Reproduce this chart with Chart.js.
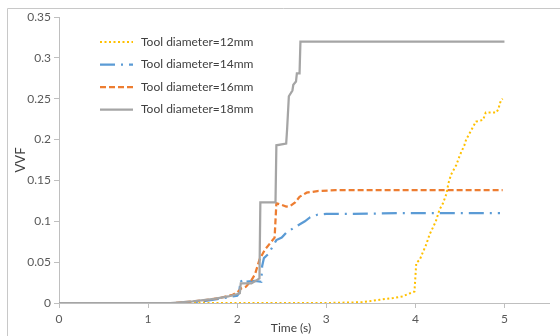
<!DOCTYPE html>
<html>
<head>
<meta charset="utf-8">
<script src="https://cdn.jsdelivr.net/npm/chart.js@4/dist/chart.umd.min.js"></script>
<style>
body{margin:0;background:#fff;}
canvas{display:block;}
</style>
</head>
<body>
<canvas id="myChart" width="560" height="336"></canvas>
<script>
// series names
const labels12 = "Tool diameter=12mm";
const labels14 = "Tool diameter=14mm";
const labels16 = "Tool diameter=16mm";
const labels18 = "Tool diameter=18mm";

// time (s) and VVF values
const t12 = [0, 3.0, 3.4, 3.6, 3.75, 3.85, 3.92, 3.99, 4.01, 4.05, 4.08, 4.12, 4.16, 4.2, 4.23, 4.27, 4.31, 4.35, 4.37, 4.4, 4.46, 4.5, 4.55, 4.57, 4.63, 4.68, 4.76, 4.79, 4.91, 4.93, 4.96, 4.98];
const v12 = [0, 0, 0.001, 0.004, 0.006, 0.008, 0.011, 0.014, 0.049, 0.053, 0.061, 0.071, 0.084, 0.093, 0.1, 0.114, 0.122, 0.134, 0.146, 0.157, 0.169, 0.181, 0.193, 0.2, 0.212, 0.222, 0.224, 0.233, 0.233, 0.237, 0.248, 0.25];

const t14 = [0, 1.35, 1.6, 1.8, 1.95, 2.0, 2.02, 2.04, 2.06, 2.1, 2.2, 2.27, 2.28, 2.3, 2.35, 2.44, 2.5, 2.55, 2.65, 2.76, 2.82, 2.9, 3.0, 3.3, 3.8, 4.95];
const v14 = [0, 0, 0.002, 0.005, 0.008, 0.009, 0.012, 0.028, 0.024, 0.026, 0.027, 0.026, 0.045, 0.055, 0.06, 0.077, 0.08, 0.086, 0.093, 0.1, 0.105, 0.108, 0.109, 0.109, 0.11, 0.11];

const t16 = [0, 1.3, 1.6, 1.8, 1.95, 2.0, 2.05, 2.1, 2.16, 2.2, 2.25, 2.31, 2.42, 2.44, 2.5, 2.55, 2.6, 2.65, 2.7, 2.78, 2.9, 3.1, 3.5, 4.0, 4.98];
const v16 = [0, 0, 0.003, 0.006, 0.01, 0.013, 0.018, 0.02, 0.028, 0.035, 0.053, 0.065, 0.08, 0.122, 0.12, 0.118, 0.119, 0.123, 0.13, 0.135, 0.137, 0.138, 0.138, 0.138, 0.138];

const t18 = [0, 1.25, 1.5, 1.74, 1.9, 2.0, 2.03, 2.04, 2.16, 2.22, 2.25, 2.26, 2.43, 2.44, 2.55, 2.56, 2.57, 2.58, 2.62, 2.63, 2.66, 2.67, 2.70, 2.71, 5.0];
const v18 = [0, 0, 0.002, 0.005, 0.008, 0.011, 0.012, 0.024, 0.024, 0.028, 0.030, 0.123, 0.123, 0.193, 0.195, 0.212, 0.212, 0.253, 0.260, 0.267, 0.271, 0.281, 0.281, 0.32, 0.32];

function pts(t, v){
    return t.map((x, i) => ({x: x, y: v[i]}));
}

const FONT = "Lato, 'Liberation Sans', sans-serif";

const series = [
    {label: labels12, data: pts(t12, v12), color: "#FFC000", dash: [2, 2.5], width: 2, order: 4},
    {label: labels14, data: pts(t14, v14), color: "#5B9BD5", dash: [15, 6, 2, 6], width: 2.25, order: 3},
    {label: labels16, data: pts(t16, v16), color: "#ED7D31", dash: [6, 3], width: 2.25, order: 2},
    {label: labels18, data: pts(t18, v18), color: "#A5A5A5", dash: [], width: 2.25, order: 1},
];

// frame, x title and the legend drawn by hand (Excel style)
const extras = {
    id: "extras",
    beforeDraw(c){
        const ctx = c.ctx;
        ctx.save();
        ctx.strokeStyle = "#c8c8c8";
        ctx.lineWidth = 1;
        ctx.beginPath();
        ctx.moveTo(7.5, 336);
        ctx.lineTo(7.5, 8.5);
        ctx.lineTo(560, 8.5);
        ctx.stroke();
        ctx.restore();
    },
    afterDraw(c){
        const ctx = c.ctx;
        ctx.save();
        ctx.fillStyle = "#404040";
        ctx.font = "12px " + FONT;
        ctx.textAlign = "center";
        ctx.textBaseline = "middle";
        ctx.fillText("Time (s)", 291, 328);
        ctx.textAlign = "left";
        series.forEach((s, i) => {
            const y = 42 + i * 22.5;
            ctx.strokeStyle = s.color;
            ctx.lineWidth = s.width;
            ctx.setLineDash(s.dash);
            ctx.beginPath();
            ctx.moveTo(100, y);
            ctx.lineTo(133, y);
            ctx.stroke();
            ctx.setLineDash([]);
            ctx.fillText(s.label, 141, y);
        });
        ctx.restore();
    }
};

let myChart = document.querySelector("#myChart").getContext("2d");
var chart = new Chart(myChart, {
    type: "line",
    data: {
        datasets: series.map(s => ({
            label: s.label,
            data: s.data,
            borderColor: s.color,
            borderDash: s.dash,
            borderWidth: s.width,
            pointRadius: 0,
            fill: false,
            tension: 0,
            order: s.order,
        })),
    },
    options: {
        responsive: false,
        animation: false,
        layout: {padding: {top: 17, right: 11, left: 0, bottom: 0}},
        plugins: {legend: {display: false}, tooltip: {enabled: false}},
        scales: {
            x: {
                type: "linear",
                min: 0,
                max: 5.5,
                border: {color: "#bfbfbf"},
                grid: {drawOnChartArea: false, tickLength: 5, color: "#bfbfbf"},
                ticks: {stepSize: 1, includeBounds: false, color: "#595959", font: {size: 12, family: FONT}, padding: 4, maxRotation: 0},
                afterFit(s){ s.height = 33; },
            },
            y: {
                min: 0,
                max: 0.35,
                border: {color: "#bfbfbf"},
                grid: {drawOnChartArea: false, tickLength: 5, color: "#bfbfbf"},
                ticks: {
                    stepSize: 0.05,
                    color: "#595959",
                    font: {size: 12, family: FONT},
                    padding: 3,
                    callback: v => String(Number(v.toFixed(2))),
                },
                title: {display: true, text: "VVF", color: "#404040", font: {size: 13, family: FONT}, padding: {top: 13, bottom: 0}},
                afterFit(s){ s.width = 59; },
            },
        },
    },
    plugins: [extras],
});
</script>
</body>
</html>
